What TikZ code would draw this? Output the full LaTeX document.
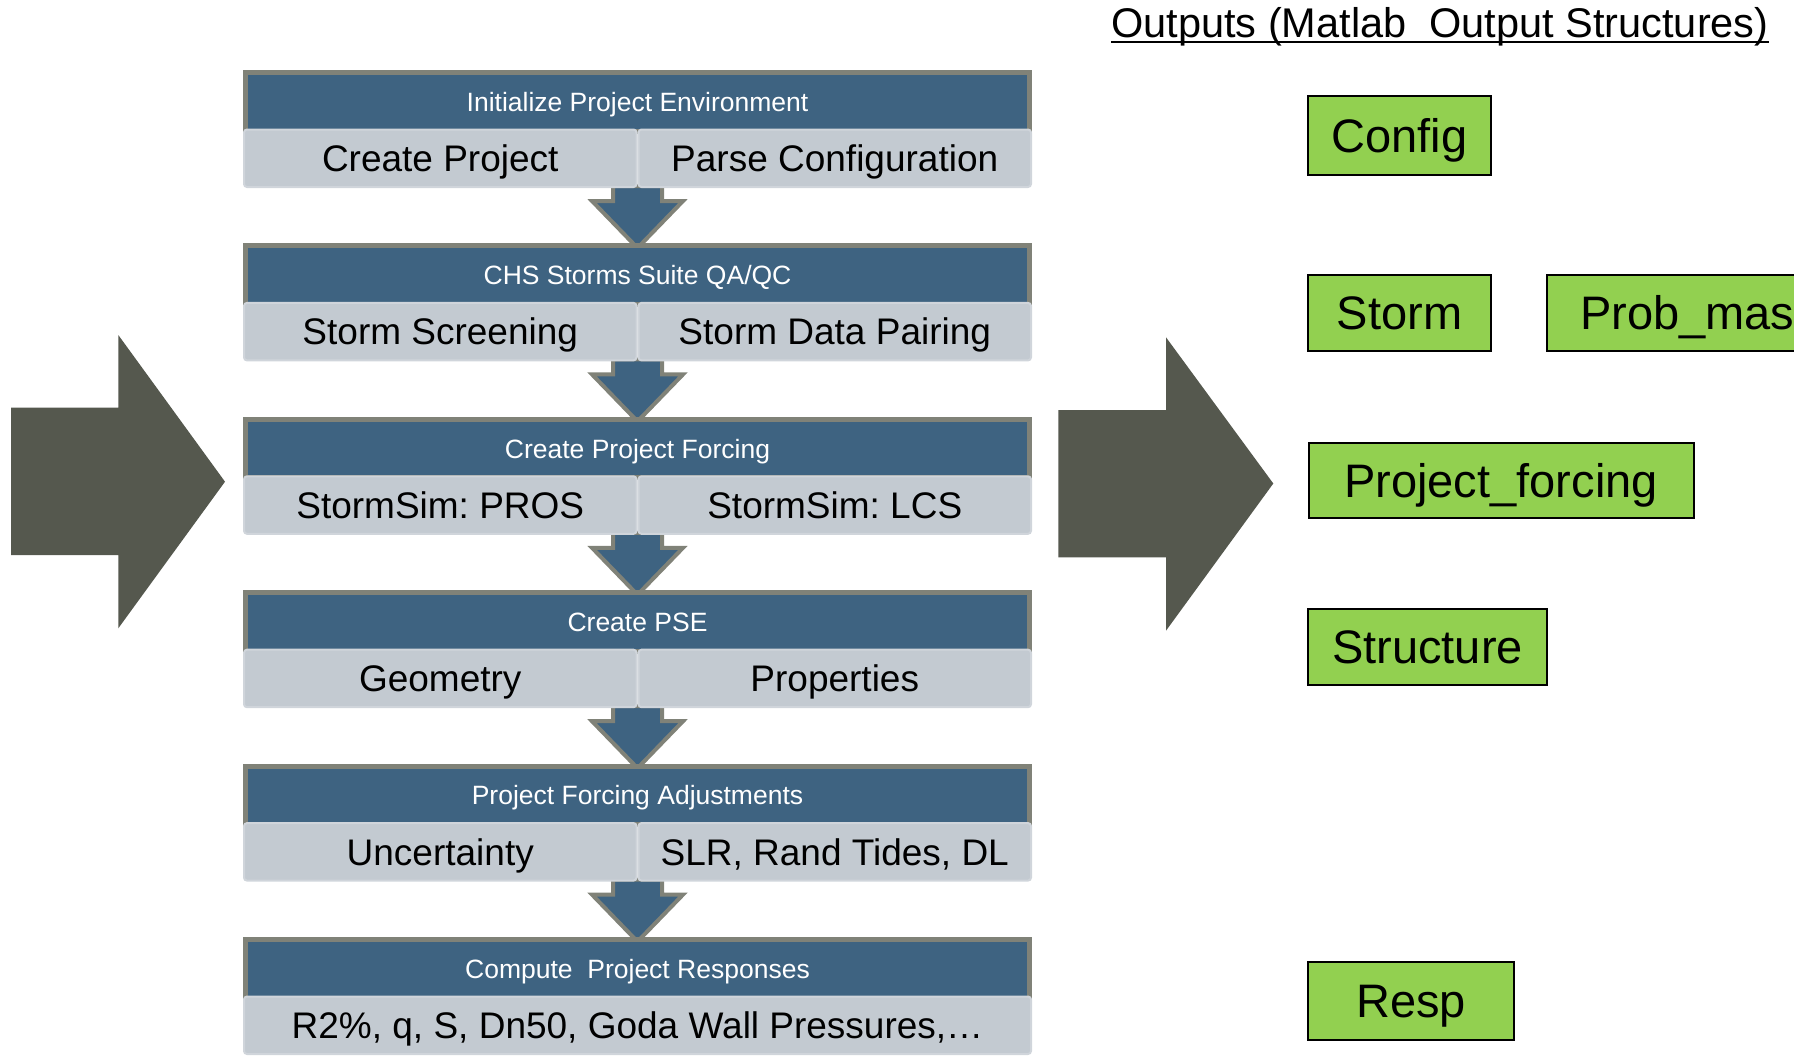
\documentclass[tikz,border=0pt]{standalone}
\usepackage{fontspec}
\setmainfont{Liberation Sans}
\usetikzlibrary{calc}
\pgfdeclarelayer{background}
\pgfsetlayers{background,main}
\frenchspacing

\definecolor{hdrblue}{RGB}{62,99,129}
\definecolor{cellgray}{RGB}{195,202,209}
\definecolor{celledge}{RGB}{208,213,219}
\definecolor{framegray}{RGB}{128,130,120}
\definecolor{bigarrow}{RGB}{85,88,78}
\definecolor{outgreen}{RGB}{146,208,80}

\newcommand{\sizept}[1]{\fontsize{#1}{#1}\selectfont}

\tikzset{
  hdr/.style={draw=framegray, line width=5pt, fill=hdrblue, text=white,
    minimum width=784pt, minimum height=58.5pt, inner sep=0pt,
    font=\sizept{26.5}, text height=19pt, text depth=0pt},
  cell/.style={draw=celledge, line width=2pt, fill=cellgray, rounded corners=3pt,
    minimum width=392.5pt, minimum height=57.5pt, inner sep=0pt,
    font=\sizept{37}, text height=26.5pt, text depth=0pt},
  flowarrow/.style={fill=hdrblue, draw=framegray, line width=4pt},
  bigshape/.style={fill=bigarrow},
  outbox/.style={draw=black, line width=2pt, fill=outgreen, inner sep=0pt,
    font=\sizept{47}, text height=33.7pt, text depth=0pt},
}

% block arrow from the bottom of one stage to the top of the next
\newcommand{\stagearrow}[3]{%
  \begin{pgfonlayer}{background}
  \path let \p1 = ($(#1.south east)!0.5!(#2.south west)$), \p2 = (#3.north) in
    [flowarrow] (\x1-24.5pt,\y1+2pt) -- (\x1-24.5pt,\y1-13pt) -- (\x1-45.5pt,\y1-13pt)
    -- (\x1,\y2-4.6pt) -- (\x1+45.5pt,\y1-13pt) -- (\x1+24.5pt,\y1-13pt)
    -- (\x1+24.5pt,\y1+2pt) -- cycle;
  \end{pgfonlayer}}

\begin{document}
\begin{tikzpicture}[x=1pt,y=-1pt]
\useasboundingbox (0,0) rectangle (1794,1055);
\clip (0,0) rectangle (1794,1055);

% process stages
\node[hdr] (h1) at (637.5,101.75) {Initialize Project Environment};
\node[cell] (c1a) at (440.25,158.25) {Create Project};
\node[cell] (c1b) at (834.75,158.25) {Parse Configuration};

\node[hdr] (h2) at (637.5,275.15) {CHS Storms Suite QA/QC};
\node[cell] (c2a) at (440.25,331.65) {Storm Screening};
\node[cell] (c2b) at (834.75,331.65) {Storm Data Pairing};

\node[hdr] (h3) at (637.5,448.55) {Create Project Forcing};
\node[cell] (c3a) at (440.25,505.05) {StormSim: PROS};
\node[cell] (c3b) at (834.75,505.05) {StormSim: LCS};

\node[hdr] (h4) at (637.5,621.95) {Create PSE};
\node[cell] (c4a) at (440.25,678.45) {Geometry};
\node[cell] (c4b) at (834.75,678.45) {Properties};

\node[hdr] (h5) at (637.5,795.35) {Project Forcing Adjustments};
\node[cell] (c5a) at (440.25,851.85) {Uncertainty};
\node[cell] (c5b) at (834.75,851.85) {SLR, Rand Tides, DL};

\node[hdr] (h6) at (637.5,968.75) {Compute\ \ Project Responses};
\node[cell, minimum width=787pt] (c6) at (637.5,1025.25) {R2\%, q, S, Dn50, Goda Wall Pressures,…};

% flow between stages
\stagearrow{c1a}{c1b}{h2}
\stagearrow{c2a}{c2b}{h3}
\stagearrow{c3a}{c3b}{h4}
\stagearrow{c4a}{c4b}{h5}
\stagearrow{c5a}{c5b}{h6}

% large input / output arrows
\fill[bigshape] (11,407.7) -- (118.3,407.7) -- (118.3,335) -- (225,481.7)
  -- (118.3,628.3) -- (118.3,555) -- (11,555) -- cycle;
\fill[bigshape] (1058.3,410) -- (1166,410) -- (1166,337.3) -- (1273.3,483.5)
  -- (1166,630.7) -- (1166,557.3) -- (1058.3,557.3) -- cycle;

% output structures
\node[anchor=base west, inner sep=0pt, font=\sizept{41.5}] (title) at (1111,37)
  {Outputs (Matlab\ \ Output Structures)};
\draw[line width=2pt] ([yshift=-4.7pt]title.base west) -- ([yshift=-4.7pt]title.base east);

\node[outbox, minimum width=183pt, minimum height=79pt] (config) at (1399.5,135.5) {Config};
\node[outbox, minimum width=183pt, minimum height=76pt] (storm) at (1399.5,313) {Storm};
\node[outbox, minimum width=304pt, minimum height=76pt, anchor=west] (prob) at (1546,313) {Prob\_mass};
\node[outbox, minimum width=385pt, minimum height=75pt] (forcing) at (1501,480.5) {Project\_forcing};
\node[outbox, minimum width=239pt, minimum height=76pt] (structure) at (1427.5,647) {Structure};
\node[outbox, minimum width=206pt, minimum height=78pt] (resp) at (1411,1001) {Resp};
\end{tikzpicture}
\end{document}
